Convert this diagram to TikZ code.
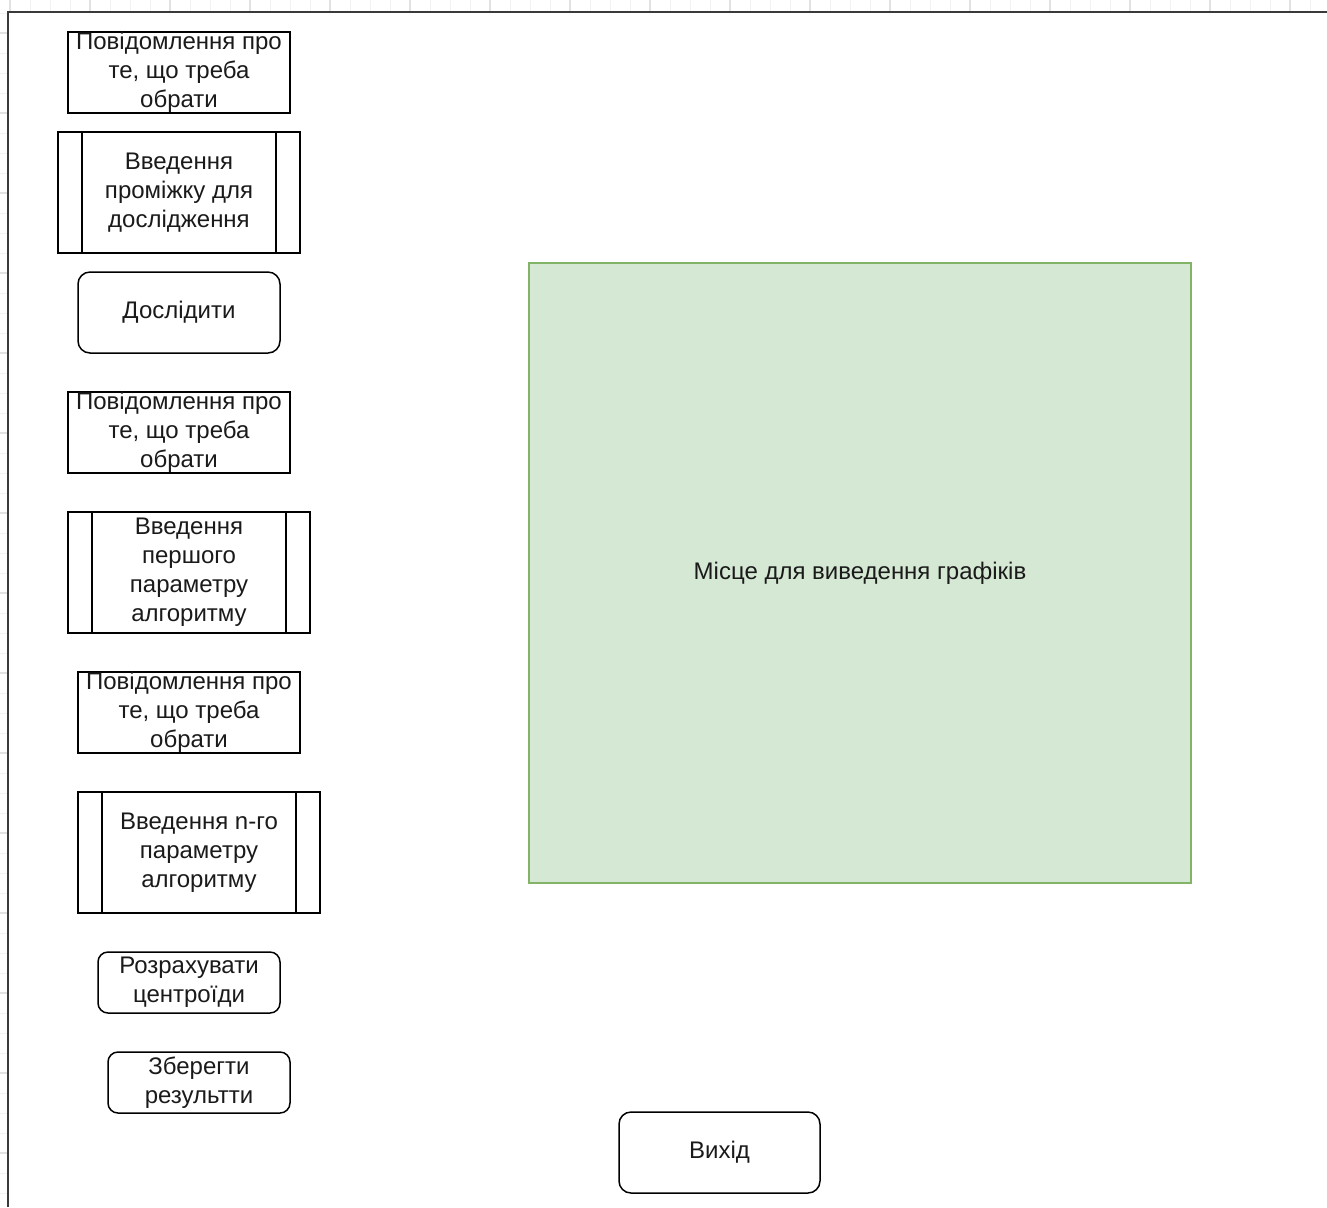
\documentclass[tikz,border=0pt]{standalone}
\usepackage{fontspec}
\setmainfont{Liberation Sans}
\usetikzlibrary{positioning}
\definecolor{plotfill}{HTML}{D5E8D4}
\definecolor{plotdraw}{HTML}{82B366}
\definecolor{frameline}{HTML}{3A3A3A}
\definecolor{gridminor}{HTML}{F2F2F2}
\definecolor{gridmajor}{HTML}{E2E2E2}
\definecolor{txt}{HTML}{1A1A1A}

\begin{document}
\begin{tikzpicture}[
  x=0.5pt, y=-0.5pt,
  every node/.style={font=\fontsize{12}{14.5}\selectfont, text=txt},
  msgbox/.style={draw, line width=0.75pt, minimum width=111pt, minimum height=40.5pt,
                 align=center, inner sep=0pt},
  inbox/.style={draw, line width=0.75pt, minimum width=121pt, minimum height=60.5pt,
                align=center, inner sep=0pt,
                path picture={
                  \draw[line width=0.75pt] ([xshift=12pt]path picture bounding box.north west)
                    -- ([xshift=12pt]path picture bounding box.south west);
                  \draw[line width=0.75pt] ([xshift=-12pt]path picture bounding box.north east)
                    -- ([xshift=-12pt]path picture bounding box.south east);
                }},
  btn/.style={draw, line width=0.75pt, rounded corners=6pt, minimum width=101pt,
              minimum height=40.5pt, align=center, inner sep=0pt},
  smallbtn/.style={btn, rounded corners=5pt, minimum width=91pt, minimum height=30.5pt}
]
\useasboundingbox (0,0) rectangle (1327,1207);

% -- editor grid outside the frame --
\foreach \gx in {10,30,...,1326}
  \draw[gridminor, line width=0.5pt] (\gx,0) -- (\gx,11);
\foreach \gx in {10,90,...,1326}
  \draw[gridmajor, line width=0.6pt] (\gx,0) -- (\gx,11);
\foreach \gy in {13,33,...,1206}
  \draw[gridminor, line width=0.5pt] (0,\gy) -- (7,\gy);
\foreach \gy in {33,113,...,1206}
  \draw[gridmajor, line width=0.6pt] (0,\gy) -- (7,\gy);

% -- frame --
\draw[frameline, line width=1pt] (8,1207) -- (8,12) -- (1327,12);

% -- left column --
\node[msgbox] (msgA) at (179,72.5) {Повідомлення про\\те, що треба\\обрати};
\node[inbox] (inputA) at (179,192.5) {Введення\\проміжку для\\дослідження};
\node[btn] (explore) at (179,312.5) {Дослідити};
\node[msgbox] (msgB) at (179,432.5) {Повідомлення про\\те, що треба\\обрати};
\node[inbox] (inputB) at (189,572.5) {Введення\\першого\\параметру\\алгоритму};
\node[msgbox] (msgC) at (189,712.5) {Повідомлення про\\те, що треба\\обрати};
\node[inbox] (inputC) at (199,852.5) {Введення n-го\\параметру\\алгоритму};
\node[smallbtn] (centroids) at (189,982.5) {Розрахувати\\центроїди};
\node[smallbtn] (save) at (199,1082.5) {Зберегти\\результти};

% -- plot area --
\node[draw=plotdraw, fill=plotfill, line width=0.75pt, minimum width=331pt,
      minimum height=310pt] (plots) at (860,573) {Місце для виведення графіків};

% -- exit --
\node[btn, minimum width=100.5pt] (exitbtn) at (719.5,1152.5) {Вихід};

\end{tikzpicture}
\end{document}
